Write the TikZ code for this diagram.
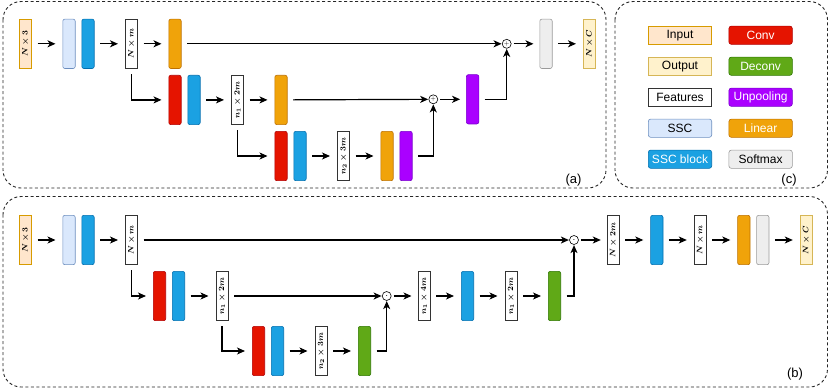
\documentclass[tikz,border=0pt]{standalone}
\usepackage{fontspec}
\usepackage{graphicx}
\usepackage{tikz}
\usetikzlibrary{arrows.meta, positioning}
\newfontfamily\legendfont{Liberation Sans}
\definecolor{infill}{HTML}{FFE6CC}
\definecolor{inline}{HTML}{D79B00}
\definecolor{outfill}{HTML}{FFF2CC}
\definecolor{outline}{HTML}{D6B656}
\definecolor{sscfill}{HTML}{DAE8FC}
\definecolor{sscline}{HTML}{6C8EBF}
\definecolor{blkfill}{HTML}{1BA1E2}
\definecolor{blkline}{HTML}{006EAF}
\definecolor{convfill}{HTML}{E51400}
\definecolor{convline}{HTML}{B20000}
\definecolor{decfill}{HTML}{60A917}
\definecolor{decline}{HTML}{2D7600}
\definecolor{unpfill}{HTML}{AA00FF}
\definecolor{unpline}{HTML}{7700CC}
\definecolor{linfill}{HTML}{F0A30A}
\definecolor{linline}{HTML}{BD7000}
\definecolor{softfill}{HTML}{EEEEEE}
\definecolor{softline}{HTML}{9A9A9A}
\definecolor{featline}{HTML}{333333}
\newcommand{\dimtxt}[1]{\rotatebox{90}{\boldmath$#1$}}
\newcommand{\plusop}{\fontsize{6}{6}\selectfont$+$}
\newcommand{\dotop}{$\cdot$}
\tikzstyle{bar} = [rectangle, rounded corners=2pt, line width=0.6pt, minimum width=12.4pt, minimum height=49.3pt, inner sep=0pt, font=\fontsize{8.5}{9}\selectfont]
\tikzstyle{key} = [rectangle, rounded corners=2.5pt, line width=0.6pt, minimum width=63.4pt, minimum height=18.3pt, inner sep=0pt, font=\legendfont\fontsize{12}{14}\selectfont]
\tikzstyle{inc} = [sharp corners, draw=inline, fill=infill]
\tikzstyle{outc} = [sharp corners, draw=outline, fill=outfill]
\tikzstyle{featc} = [sharp corners, draw=featline, fill=white]
\tikzstyle{sscc} = [draw=sscline, fill=sscfill]
\tikzstyle{blkc} = [draw=blkline, fill=blkfill]
\tikzstyle{convc} = [draw=convline, fill=convfill]
\tikzstyle{decc} = [draw=decline, fill=decfill]
\tikzstyle{unpc} = [draw=unpline, fill=unpfill]
\tikzstyle{linc} = [draw=linline, fill=linfill]
\tikzstyle{softc} = [draw=softline, fill=softfill]
\tikzstyle{op} = [circle, draw=black, fill=white, line width=0.6pt, minimum size=9pt, inner sep=0pt]
\tikzstyle{flow} = [line width=1.2pt, -{Stealth[length=8pt, width=7pt, inset=2.2pt]}, shorten <=5.5pt, shorten >=7pt]
\tikzstyle{tojoin} = [shorten >=0.3pt]
\tikzstyle{fromjoin} = [shorten <=2pt, shorten >=6pt]
\tikzstyle{frame} = [line width=0.9pt, dash pattern=on 3pt off 2.5pt, rounded corners=18pt, color=black!85]
\tikzstyle{tag} = [font=\legendfont\fontsize{13}{15}\selectfont, inner sep=0pt]

\begin{document}
\begin{tikzpicture}[x=1pt, y=-1pt, node distance=30.5pt]
\useasboundingbox (0,0) rectangle (830,389);
\draw[frame] (3,1.5) rectangle (606,188);
\draw[frame] (615,1.5) rectangle (827.5,188);
\draw[frame] (3,196.5) rectangle (827.5,387);

% (a) top row
\node (a_in) [bar, inc] at (25.5,43.8) {\dimtxt{N\times 3}};
\node (a_ssc) [bar, sscc, right=of a_in] {};
\node (a_blk) [bar, blkc, right=6pt of a_ssc] {};
\node (a_f1) [bar, featc, right=of a_blk] {\dimtxt{N\times m}};
\node (a_lin1) [bar, linc, right=of a_f1] {};
\node (a_add1) [op] at (506.7,43.8) {\plusop};
\node (a_soft) [bar, softc, right=28pt of a_add1] {};
\node (a_out) [bar, outc, right=of a_soft] {\dimtxt{N\times C}};
% (a) middle row
\node (a_conv2) [bar, convc, below=6.2pt of a_lin1] {};
\node (a_blk2) [bar, blkc, right=6pt of a_conv2] {};
\node (a_f2) [bar, featc, right=of a_blk2] {\dimtxt{n_1\times 2m}};
\node (a_lin2) [bar, linc, right=of a_f2] {};
\node (a_add2) [op] at (433.3,99.3) {\plusop};
\node (a_unp2) [bar, unpc, right=28pt of a_add2] {};
% (a) bottom row
\node (a_conv3) [bar, convc, below=6.2pt of a_lin2] {};
\node (a_blk3) [bar, blkc, right=6pt of a_conv3] {};
\node (a_f3) [bar, featc, right=of a_blk3] {\dimtxt{n_2\times 3m}};
\node (a_lin3) [bar, linc, right=of a_f3] {};
\node (a_unp3) [bar, unpc, right=6pt of a_lin3] {};

\draw[flow] (a_in) -- (a_ssc);
\draw[flow] (a_blk) -- (a_f1);
\draw[flow] (a_f1) -- (a_lin1);
\draw[flow, tojoin] (a_lin1) -- (a_add1);
\draw[flow, fromjoin] (a_add1) -- (a_soft);
\draw[flow] (a_soft) -- (a_out);
\draw[flow] (a_f1) |- (a_conv2);
\draw[flow] (a_blk2) -- (a_f2);
\draw[flow] (a_f2) -- (a_lin2);
\draw[flow, tojoin] (a_lin2) -- (a_add2);
\draw[flow, fromjoin] (a_add2) -- (a_unp2);
\draw[flow, tojoin] (a_unp2) -| (a_add1);
\draw[flow] (a_f2) |- (a_conv3);
\draw[flow] (a_blk3) -- (a_f3);
\draw[flow] (a_f3) -- (a_lin3);
\draw[flow, tojoin] (a_unp3) -| (a_add2);
\node (a_tag) [tag] at (573.5,180) {(a)};

% (b) top row
\node (b_in) [bar, inc] at (25.5,240) {\dimtxt{N\times 3}};
\node (b_ssc) [bar, sscc, right=of b_in] {};
\node (b_blk) [bar, blkc, right=6pt of b_ssc] {};
\node (b_f1) [bar, featc, right=of b_blk] {\dimtxt{N\times m}};
\node (b_mul1) [op] at (574,240) {\dotop};
\node (b_f4) [bar, featc, right=28pt of b_mul1] {\dimtxt{N\times 2m}};
\node (b_blk4) [bar, blkc, right=of b_f4] {};
\node (b_f5) [bar, featc, right=of b_blk4] {\dimtxt{N\times m}};
\node (b_lin) [bar, linc, right=of b_f5] {};
\node (b_soft) [bar, softc, right=6pt of b_lin] {};
\node (b_out) [bar, outc, right=of b_soft] {\dimtxt{N\times C}};
% (b) middle row
\node (b_conv2) [bar, convc] at (159.5,296) {};
\node (b_blk2) [bar, blkc, right=6pt of b_conv2] {};
\node (b_f2) [bar, featc, right=of b_blk2] {\dimtxt{n_1\times 2m}};
\node (b_mul2) [op] at (386.7,296) {\dotop};
\node (b_f6) [bar, featc, right=26pt of b_mul2] {\dimtxt{n_1\times 4m}};
\node (b_blk6) [bar, blkc, right=of b_f6] {};
\node (b_f7) [bar, featc, right=of b_blk6] {\dimtxt{n_1\times 2m}};
\node (b_dec2) [bar, decc, right=of b_f7] {};
% (b) bottom row
\node (b_conv3) [bar, convc] at (258.5,351) {};
\node (b_blk3) [bar, blkc, right=6pt of b_conv3] {};
\node (b_f3) [bar, featc, right=of b_blk3] {\dimtxt{n_2\times 3m}};
\node (b_dec3) [bar, decc, right=of b_f3] {};

\draw[flow] (b_in) -- (b_ssc);
\draw[flow] (b_blk) -- (b_f1);
\draw[flow, tojoin] (b_f1) -- (b_mul1);
\draw[flow, fromjoin] (b_mul1) -- (b_f4);
\draw[flow] (b_f4) -- (b_blk4);
\draw[flow] (b_blk4) -- (b_f5);
\draw[flow] (b_f5) -- (b_lin);
\draw[flow] (b_soft) -- (b_out);
\draw[flow] (b_f1) |- (b_conv2);
\draw[flow] (b_blk2) -- (b_f2);
\draw[flow, tojoin] (b_f2) -- (b_mul2);
\draw[flow, fromjoin] (b_mul2) -- (b_f6);
\draw[flow] (b_f6) -- (b_blk6);
\draw[flow] (b_blk6) -- (b_f7);
\draw[flow] (b_f7) -- (b_dec2);
\draw[flow, tojoin] (b_dec2) -| (b_mul1);
\draw[flow] (b_f2) |- (b_conv3);
\draw[flow] (b_blk3) -- (b_f3);
\draw[flow] (b_f3) -- (b_dec3);
\draw[flow, tojoin] (b_dec3) -| (b_mul2);
\node (b_tag) [tag] at (795,374) {(b)};

% (c) legend
\node (k_in) [key, inc] at (680,35.2) {Input};
\node (k_out) [key, outc, below=12.1pt of k_in] {Output};
\node (k_feat) [key, featc, below=12.1pt of k_out] {Features};
\node (k_ssc) [key, sscc, below=12.1pt of k_feat] {SSC};
\node (k_blk) [key, blkc, text=white, below=12.1pt of k_ssc] {SSC block};
\node (k_conv) [key, convc, text=white, right=16.6pt of k_in] {Conv};
\node (k_dec) [key, decc, text=white, right=16.6pt of k_out] {Deconv};
\node (k_unp) [key, unpc, text=white, right=16.6pt of k_feat] {Unpooling};
\node (k_lin) [key, linc, text=white, right=16.6pt of k_ssc] {Linear};
\node (k_soft) [key, softc, right=16.6pt of k_blk] {Softmax};
\node (c_tag) [tag] at (789,180) {(c)};
\end{tikzpicture}
\end{document}
